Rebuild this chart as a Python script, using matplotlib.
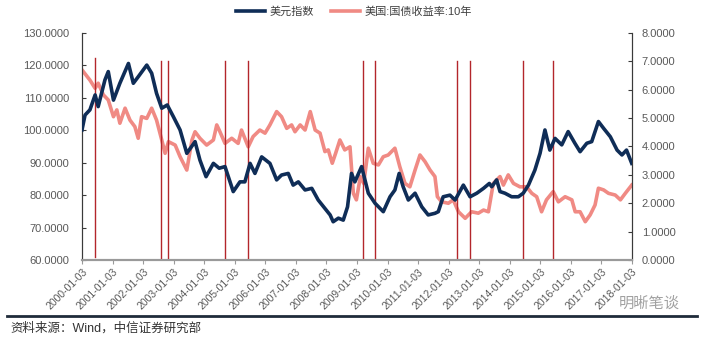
import numpy as np
import matplotlib
matplotlib.use('Agg')
import matplotlib.pyplot as plt

plt.rcParams['font.family'] = ['Liberation Sans', 'Noto Sans CJK SC', 'DejaVu Sans']

# US dollar index (decimal year, level)
dxy_t = [0.00, 0.10, 0.26, 0.43, 0.53, 0.75, 0.86, 1.03, 1.24, 1.52, 1.68, 1.84, 2.12, 2.28,
         2.44, 2.61, 2.79, 2.99, 3.21, 3.43, 3.70, 3.86, 4.06, 4.30, 4.49, 4.68, 4.95, 5.17,
         5.33, 5.50, 5.66, 5.88, 6.15, 6.37, 6.53, 6.75, 6.91, 7.08, 7.30, 7.52, 7.73, 7.95,
         8.12, 8.22, 8.39, 8.55, 8.69, 8.82, 8.93, 9.15, 9.37, 9.59, 9.86, 10.08, 10.24, 10.38,
         10.51, 10.68, 10.90, 11.12, 11.33, 11.55, 11.66, 11.82, 12.04, 12.21, 12.48, 12.70,
         12.92, 13.14, 13.33, 13.41, 13.57, 13.68, 13.84, 14.06, 14.28, 14.44, 14.61, 14.82,
         14.99, 15.15, 15.31, 15.48, 15.70, 15.91, 16.13, 16.30, 16.52, 16.68, 16.90, 17.07,
         17.29, 17.51, 17.67, 17.82, 17.99]
dxy_v = [100.1, 104.7, 106.3, 110.9, 107.3, 115.5, 118.1, 109.3, 114.5, 120.6, 114.5, 116.5,
         120.1, 117.6, 111.4, 106.8, 107.8, 104.2, 100.1, 92.9, 96.5, 90.8, 85.7, 89.8, 88.3,
         88.8, 81.1, 84.1, 84.1, 89.8, 86.7, 91.8, 89.8, 84.7, 86.2, 86.7, 83.1, 84.1, 81.6,
         82.1, 78.5, 75.9, 73.9, 71.8, 72.9, 72.3, 76.4, 86.7, 84.1, 88.8, 80.6, 77.5, 74.9,
         79.5, 81.6, 86.7, 82.6, 78.5, 80.6, 76.4, 73.9, 74.4, 74.9, 79.5, 80.0, 78.5, 83.1,
         79.5, 80.6, 82.1, 83.6, 82.6, 84.7, 81.1, 80.6, 79.5, 79.5, 80.6, 83.1, 87.7, 92.9,
         100.1, 93.9, 97.5, 95.5, 99.6, 96.0, 93.4, 96.0, 96.5, 102.7, 100.6, 98.0, 93.9, 92.4,
         93.9, 89.8]

# US 10-year treasury yield (decimal year, %)
ust_t = [0.00, 0.26, 0.43, 0.53, 0.70, 0.86, 1.03, 1.14, 1.24, 1.41, 1.57, 1.73, 1.84, 1.95,
         2.12, 2.28, 2.44, 2.61, 2.72, 2.83, 3.05, 3.21, 3.43, 3.60, 3.70, 3.86, 4.08, 4.30,
         4.41, 4.49, 4.68, 4.90, 5.11, 5.22, 5.44, 5.60, 5.82, 5.99, 6.15, 6.37, 6.53, 6.70,
         6.86, 6.97, 7.14, 7.30, 7.47, 7.63, 7.79, 7.95, 8.06, 8.19, 8.30, 8.44, 8.60, 8.77,
         8.88, 8.98, 9.11, 9.22, 9.37, 9.53, 9.70, 9.86, 10.02, 10.24, 10.40, 10.57, 10.73,
         10.90, 11.06, 11.23, 11.39, 11.55, 11.63, 11.77, 11.99, 12.15, 12.32, 12.54, 12.75,
         12.97, 13.14, 13.30, 13.46, 13.68, 13.79, 13.95, 14.12, 14.33, 14.55, 14.72, 14.88,
         15.04, 15.20, 15.42, 15.59, 15.81, 16.03, 16.14, 16.30, 16.47, 16.63, 16.79, 16.90,
         17.07, 17.23, 17.45, 17.62, 17.78, 17.99]
ust_v = [6.70, 6.34, 6.05, 6.23, 5.82, 5.64, 5.05, 5.29, 4.82, 5.35, 4.93, 4.70, 4.29, 5.05,
         4.99, 5.35, 4.93, 4.23, 3.76, 4.17, 4.05, 3.64, 3.17, 4.23, 4.52, 4.29, 4.05, 4.23,
         4.76, 4.58, 4.11, 4.29, 4.11, 4.58, 3.99, 4.35, 4.58, 4.47, 4.76, 5.23, 5.05, 4.64,
         4.76, 4.52, 4.76, 4.58, 5.23, 4.58, 4.47, 3.82, 3.88, 3.41, 3.76, 4.23, 3.88, 3.99,
         2.35, 2.12, 2.94, 2.70, 3.94, 3.41, 3.35, 3.64, 3.70, 3.94, 3.29, 2.70, 2.58, 3.17,
         3.70, 3.46, 3.17, 2.94, 2.23, 2.05, 2.00, 2.12, 1.70, 1.47, 1.70, 1.65, 1.76, 1.70,
         2.70, 2.94, 2.64, 3.00, 2.70, 2.58, 2.58, 2.35, 2.23, 1.70, 2.12, 2.41, 2.05, 2.23,
         2.12, 1.70, 1.70, 1.35, 1.59, 1.94, 2.53, 2.47, 2.35, 2.29, 2.12, 2.35, 2.64]

# marked dates (decimal year)
events = [0.435, 2.576, 2.824, 4.690, 5.443, 9.206, 9.599, 12.263, 12.708, 14.443, 15.425]

years = list(range(2000, 2019))
xlabels = [f'{y}-01-03' for y in years]

navy = '#0f2d57'
salmon = '#f08a84'
red = '#b3262b'
gray = '#595959'

fig = plt.figure(figsize=(7.08, 3.39), dpi=100)
ax = fig.add_axes([0.1158, 0.233, 0.7769, 0.6697])
ax2 = ax.twinx()

for i, e in enumerate(events):
    if i == 0:
        ax.axvline(e, ymin=0.015, ymax=0.889, color=red, lw=1.0, zorder=1)
    else:
        ax.axvline(e, ymin=0.0, ymax=0.877, color=red, lw=1.0, zorder=1)

l1, = ax.plot(dxy_t, dxy_v, color=navy, lw=2.6, zorder=3, label='美元指数')
l2, = ax2.plot(ust_t, ust_v, color=salmon, lw=2.6, zorder=2, label='美国:国债收益率:10年')
ax.set_zorder(ax2.get_zorder() + 1)
ax.patch.set_visible(False)

ax.set_xlim(0, 18)
ax.set_ylim(60, 130)
ax2.set_ylim(0, 8)
ax.set_yticks(np.arange(60, 131, 10))
ax.set_yticklabels([f'{v:.4f}' for v in np.arange(60, 131, 10)])
ax2.set_yticks(np.arange(0, 9, 1))
ax2.set_yticklabels([f'{v:.4f}' for v in np.arange(0, 9, 1)])
ax.set_xticks([y - 2000 for y in years])
ax.set_xticklabels(xlabels, rotation=45, ha='right', rotation_mode='anchor')

for a in (ax, ax2):
    a.spines['top'].set_visible(False)
    a.spines['left'].set_color('#3a3a3a')
    a.spines['right'].set_color('#3a3a3a')
    a.spines['bottom'].set_color('#9a9a9a')
    a.spines['bottom'].set_linewidth(1.5)
ax.tick_params(axis='y', direction='in', length=3, colors='#3a3a3a', labelcolor=gray,
               labelsize=8, pad=9)
ax2.tick_params(axis='y', direction='in', length=3, colors='#3a3a3a', labelcolor=gray,
                labelsize=8, pad=7)
ax.tick_params(axis='x', direction='out', length=3, colors='#9a9a9a', labelcolor=gray,
               labelsize=7.5, pad=2)

fig.legend(handles=[l1, l2], loc='center', bbox_to_anchor=(0.5, 0.965), ncol=2,
           frameon=False, fontsize=8, labelcolor='#404040', handlelength=2.6,
           handletextpad=0.4, columnspacing=1.5)

# footer rule and source note
fig.add_artist(plt.Line2D([0.01, 0.985], [0.068, 0.068], color='#1f2b3a', lw=2,
                          transform=fig.transFigure))
fig.text(0.014, 0.032, '资料来源：Wind，中信证券研究部', fontsize=9, color='#333333',
         va='center', ha='left')
fig.text(0.96, 0.105, '明晰笔谈', fontsize=11, color='#8a8a8a', alpha=0.8,
         va='center', ha='right')

fig.savefig('out.png', dpi=100)
